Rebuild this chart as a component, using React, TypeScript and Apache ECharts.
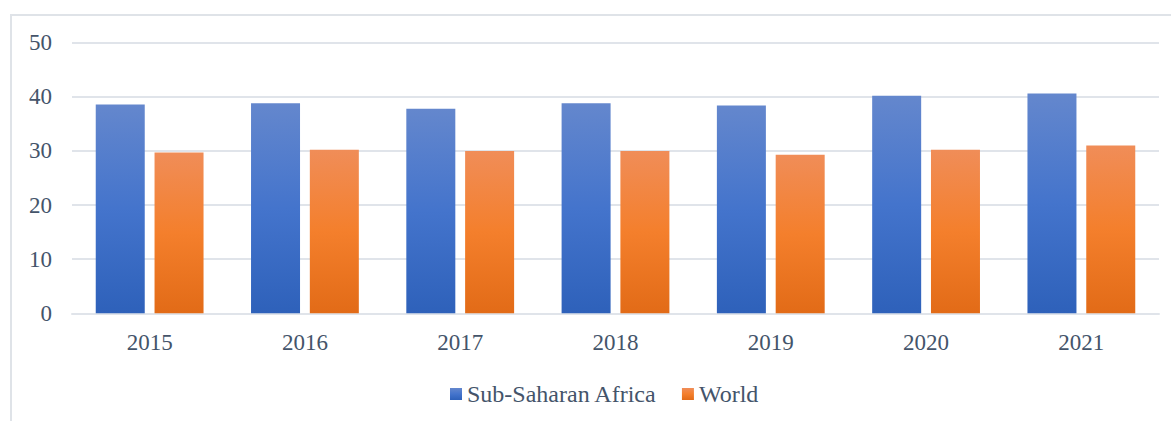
import React, { useEffect, useRef } from "react";
import * as echarts from "echarts";

const years = ["2015", "2016", "2017", "2018", "2019", "2020", "2021"];
const subSaharanAfrica = [38.6, 38.8, 37.8, 38.8, 38.4, 40.2, 40.6];
const world = [29.7, 30.2, 30.0, 30.0, 29.3, 30.2, 31.0];
const yTicks = { min: 0, max: 50, interval: 10 };

const textColor = "#44546a";
const font = "Liberation Serif, Times New Roman, serif";

export default function App() {
  const ref = useRef<HTMLDivElement>(null);
  useEffect(() => {
    if (!ref.current) return;
    const chart = echarts.init(ref.current, undefined, { renderer: "svg" });
    const blue = new echarts.graphic.LinearGradient(0, 0, 0, 1, [
      { offset: 0, color: "#6487cd" },
      { offset: 0.5, color: "#4474cc" },
      { offset: 1, color: "#2e61ba" },
    ]);
    const orange = new echarts.graphic.LinearGradient(0, 0, 0, 1, [
      { offset: 0, color: "#f08d58" },
      { offset: 0.5, color: "#f47f2c" },
      { offset: 1, color: "#e26b17" },
    ]);
    chart.setOption({
      animation: false,
      backgroundColor: "#ffffff",
      textStyle: { fontFamily: font },
      graphic: [
        {
          type: "rect",
          shape: { x: 11, y: 15, width: 1300, height: 600 },
          style: { fill: "none", stroke: "#dfe3e8", lineWidth: 2 },
          silent: true,
        },
      ],
      grid: { left: 72, right: 12, top: 42.7, bottom: 107.7, containLabel: false },
      legend: {
        left: 445,
        top: 377,
        itemWidth: 12,
        itemHeight: 12,
        itemGap: 25,
        icon: "rect",
        textStyle: { color: textColor, fontSize: 24, fontFamily: font },
        data: ["Sub-Saharan Africa", "World"],
      },
      xAxis: {
        type: "category",
        data: years,
        axisLine: { show: true, lineStyle: { color: "#e0e4ea", width: 2 } },
        axisTick: { show: false },
        axisLabel: { color: textColor, fontSize: 23, fontFamily: font, margin: 18 },
      },
      yAxis: {
        type: "value",
        min: yTicks.min,
        max: yTicks.max,
        interval: yTicks.interval,
        axisLine: { show: false },
        axisTick: { show: false },
        splitLine: { lineStyle: { color: "#e0e4ea", width: 2 } },
        axisLabel: { color: textColor, fontSize: 23, fontFamily: font, margin: 20 },
      },
      series: [
        {
          name: "Sub-Saharan Africa",
          type: "bar",
          data: subSaharanAfrica,
          barWidth: 49,
          barGap: "20%",
          itemStyle: { color: blue },
        },
        {
          name: "World",
          type: "bar",
          data: world,
          barWidth: 49,
          itemStyle: { color: orange },
        },
      ],
    });
    return () => chart.dispose();
  }, []);
  return (
    <div
      ref={ref}
      style={{ position: "absolute", left: 0, top: 0, width: 1171, height: 421 }}
    />
  );
}
